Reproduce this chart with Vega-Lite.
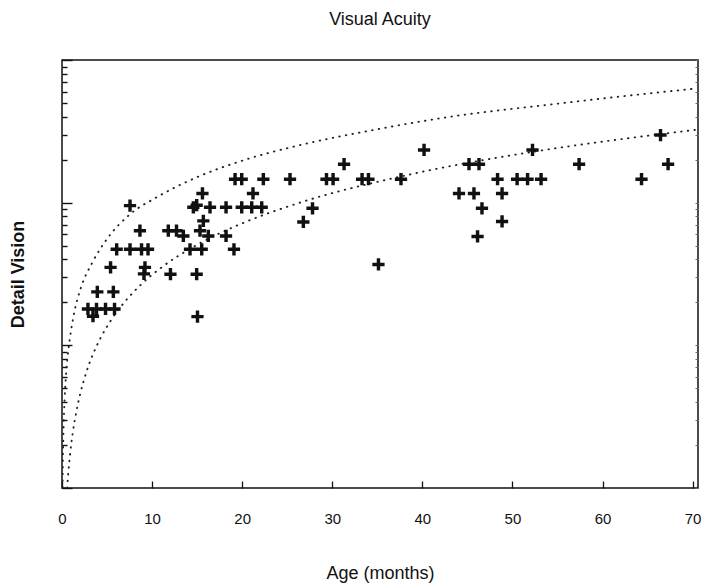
{
  "$schema": "https://vega.github.io/schema/vega-lite/v6.json",
  "width": 636,
  "height": 428,
  "autosize": "none",
  "padding": {"left": 62, "top": 60, "right": 11, "bottom": 99},
  "background": "white",
  "config": {"view": {"stroke": "#111", "strokeWidth": 1.5}, "font": "Liberation Sans"},
  "title": {"text": "Visual Acuity", "fontSize": 18, "fontWeight": "normal", "font": "Liberation Sans", "color": "#111", "offset": 30, "anchor": "middle"},
  "datasets": {
    "curves": [
      {"curve": "upper", "age": 0.06, "vision": 0.9},
      {"curve": "upper", "age": 0.07, "vision": 1.15},
      {"curve": "upper", "age": 0.15, "vision": 2.29},
      {"curve": "upper", "age": 0.3, "vision": 4.31},
      {"curve": "upper", "age": 0.5, "vision": 6.86},
      {"curve": "upper", "age": 0.89, "vision": 11.3},
      {"curve": "upper", "age": 1.44, "vision": 17.9},
      {"curve": "upper", "age": 2.08, "vision": 25.1},
      {"curve": "upper", "age": 3.41, "vision": 38.5},
      {"curve": "upper", "age": 5.0, "vision": 55.7},
      {"curve": "upper", "age": 7.56, "vision": 83},
      {"curve": "upper", "age": 10.5, "vision": 109},
      {"curve": "upper", "age": 15.0, "vision": 151},
      {"curve": "upper", "age": 20.0, "vision": 197},
      {"curve": "upper", "age": 26.4, "vision": 253},
      {"curve": "upper", "age": 35.0, "vision": 327},
      {"curve": "upper", "age": 43.1, "vision": 400},
      {"curve": "upper", "age": 55.0, "vision": 494},
      {"curve": "upper", "age": 64.6, "vision": 578},
      {"curve": "upper", "age": 70.3, "vision": 630},
      {"curve": "lower", "age": 0.57, "vision": 1.0},
      {"curve": "lower", "age": 0.7, "vision": 1.28},
      {"curve": "lower", "age": 0.89, "vision": 1.71},
      {"curve": "lower", "age": 1.2, "vision": 2.45},
      {"curve": "lower", "age": 1.63, "vision": 3.53},
      {"curve": "lower", "age": 2.0, "vision": 4.52},
      {"curve": "lower", "age": 2.7, "vision": 6.48},
      {"curve": "lower", "age": 3.5, "vision": 8.85},
      {"curve": "lower", "age": 4.2, "vision": 11.0},
      {"curve": "lower", "age": 5.5, "vision": 15.2},
      {"curve": "lower", "age": 7.0, "vision": 20.3},
      {"curve": "lower", "age": 8.7, "vision": 26.4},
      {"curve": "lower", "age": 10.9, "vision": 34.6},
      {"curve": "lower", "age": 15.0, "vision": 50.7},
      {"curve": "lower", "age": 20.0, "vision": 71.6},
      {"curve": "lower", "age": 26.4, "vision": 100},
      {"curve": "lower", "age": 37.5, "vision": 152},
      {"curve": "lower", "age": 53.0, "vision": 231},
      {"curve": "lower", "age": 64.0, "vision": 289},
      {"curve": "lower", "age": 70.5, "vision": 325}
    ],
    "points": [
      {"age": 2.88, "vision": 18.0}, {"age": 3.44, "vision": 16.0}, {"age": 3.83, "vision": 18.0},
      {"age": 4.83, "vision": 18.0}, {"age": 5.83, "vision": 18.0}, {"age": 3.92, "vision": 23.7},
      {"age": 5.70, "vision": 23.7}, {"age": 5.39, "vision": 35.2}, {"age": 6.07, "vision": 47.1},
      {"age": 7.55, "vision": 47.1}, {"age": 8.83, "vision": 47.1}, {"age": 9.55, "vision": 47.1},
      {"age": 7.55, "vision": 95.3}, {"age": 8.65, "vision": 63.6}, {"age": 9.21, "vision": 35.2},
      {"age": 9.10, "vision": 31.7}, {"age": 12.04, "vision": 31.5}, {"age": 11.80, "vision": 63.6},
      {"age": 12.71, "vision": 63.6}, {"age": 13.47, "vision": 58.4}, {"age": 14.21, "vision": 47.1},
      {"age": 15.51, "vision": 47.1}, {"age": 14.95, "vision": 31.5}, {"age": 15.04, "vision": 15.9},
      {"age": 14.58, "vision": 92.8}, {"age": 14.95, "vision": 96}, {"age": 16.43, "vision": 92.8},
      {"age": 18.21, "vision": 92.8}, {"age": 19.95, "vision": 92.8}, {"age": 21.06, "vision": 92.8},
      {"age": 22.17, "vision": 92.8}, {"age": 15.59, "vision": 116}, {"age": 21.20, "vision": 116},
      {"age": 15.69, "vision": 74.5}, {"age": 15.32, "vision": 63.6}, {"age": 16.24, "vision": 58.4},
      {"age": 18.21, "vision": 58.4}, {"age": 19.09, "vision": 47.1}, {"age": 19.21, "vision": 146},
      {"age": 19.95, "vision": 146}, {"age": 22.35, "vision": 146}, {"age": 25.31, "vision": 146},
      {"age": 29.36, "vision": 146}, {"age": 30.09, "vision": 146}, {"age": 31.31, "vision": 186},
      {"age": 33.31, "vision": 146}, {"age": 34.02, "vision": 146}, {"age": 37.63, "vision": 146},
      {"age": 27.81, "vision": 91.3}, {"age": 26.79, "vision": 73.3}, {"age": 35.13, "vision": 36.9},
      {"age": 40.19, "vision": 234}, {"age": 45.18, "vision": 186}, {"age": 46.29, "vision": 186},
      {"age": 52.23, "vision": 234}, {"age": 48.35, "vision": 146}, {"age": 50.52, "vision": 146},
      {"age": 51.68, "vision": 146}, {"age": 53.18, "vision": 146}, {"age": 44.07, "vision": 116},
      {"age": 45.73, "vision": 116}, {"age": 48.85, "vision": 116}, {"age": 46.62, "vision": 91.3},
      {"age": 48.85, "vision": 73.8}, {"age": 46.13, "vision": 58.0}, {"age": 57.40, "vision": 186},
      {"age": 64.33, "vision": 146}, {"age": 66.44, "vision": 298}, {"age": 67.28, "vision": 186}
    ]
  },
  "resolve": {"axis": {"y": "independent"}},
  "layer": [
    {
      "data": {"name": "curves"},
      "mark": {"type": "line", "strokeDash": [0.5, 6.2], "strokeCap": "round", "strokeWidth": 1.9, "color": "#222", "interpolate": "monotone", "clip": true},
      "encoding": {
        "x": {"field": "age", "type": "quantitative", "scale": {"domain": [0, 70.6], "nice": false},
          "axis": {"title": "Age (months)", "values": [0, 10, 20, 30, 40, 50, 60, 70], "domain": false, "grid": false,
            "tickSize": -7, "tickWidth": 1.3, "tickColor": "#111", "labelPadding": 30, "labelFontSize": 15, "labelColor": "#111",
            "labelFlush": false, "labelOverlap": false,
            "labelFont": "Liberation Sans", "titleFont": "Liberation Sans", "titleFontSize": 18, "titleFontWeight": "normal", "titleColor": "#111",
            "titleY": 85, "titleBaseline": "middle"}},
        "y": {"field": "vision", "type": "quantitative", "scale": {"type": "log", "domain": [1, 1000], "nice": false},
          "axis": {"title": "Detail Vision", "orient": "left", "labels": false, "domain": false, "grid": false,
            "values": [1, 2, 3, 4, 5, 6, 7, 8, 9, 10, 20, 30, 40, 50, 60, 70, 80, 90, 100, 200, 300, 400, 500, 600, 700, 800, 900, 1000],
            "tickSize": {"condition": {"test": "indexof([1, 10, 100, 1000], datum.value) >= 0", "value": -10}, "value": -5},
            "tickWidth": 1.4, "tickColor": "#111",
            "titleFont": "Liberation Sans", "titleFontSize": 18, "titleFontWeight": "bold", "titleColor": "#111",
            "titleX": -44, "titleBaseline": "middle"}},
        "detail": {"field": "curve"}
      }
    },
    {
      "data": {"name": "points"},
      "mark": {"type": "point", "shape": "M-1,-0.28H1V0.28H-1Z M-0.28,-1H0.28V1H-0.28Z", "filled": true, "size": 150, "color": "#111", "opacity": 1},
      "encoding": {
        "x": {"field": "age", "type": "quantitative"},
        "y": {"field": "vision", "type": "quantitative",
          "axis": {"title": null, "orient": "right", "labels": false, "domain": false, "grid": false,
            "values": [1, 2, 3, 4, 5, 6, 7, 8, 9, 10, 20, 30, 40, 50, 60, 70, 80, 90, 100, 200, 300, 400, 500, 600, 700, 800, 900, 1000],
            "tickSize": -3, "tickWidth": 1, "tickColor": "#666"}}
      }
    }
  ]
}
